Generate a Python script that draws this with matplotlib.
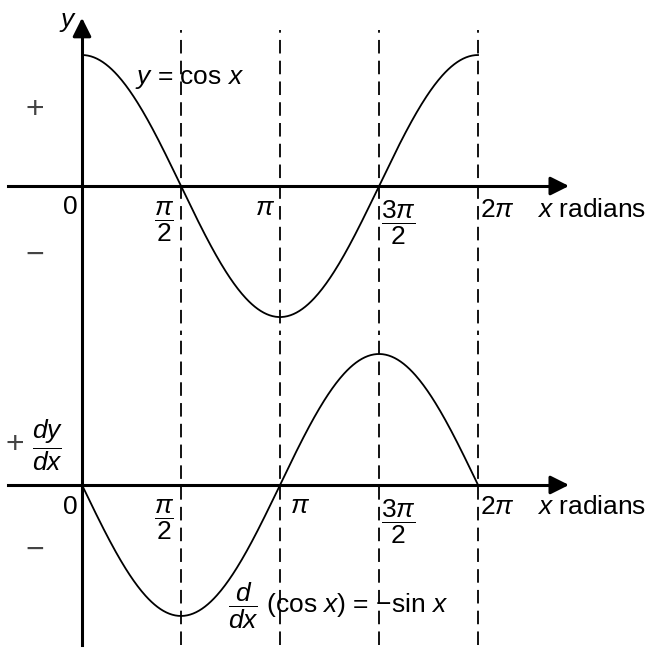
import numpy as np
import matplotlib.pyplot as plt

plt.rcParams['font.family'] = ['Liberation Sans', 'DejaVu Sans']
plt.rcParams['mathtext.fontset'] = 'custom'
plt.rcParams['mathtext.rm'] = 'Liberation Sans'
plt.rcParams['mathtext.it'] = 'Liberation Sans:italic'
plt.rcParams['mathtext.cal'] = 'Liberation Sans'

# guide lines and their labels (radians)
guide_x = [np.pi / 2, np.pi, 3 * np.pi / 2, 2 * np.pi]
top_labels = [r'$\dfrac{\pi}{2}$', r'$\pi$', r'$\dfrac{3\pi}{2}$', r'$2\pi$']
bot_labels = [r'$\dfrac{\pi}{2}$', r'$\pi$', r'$\dfrac{3\pi}{2}$', r'$2\pi$']
# label offsets relative to each guide line (x, y in data units)
top_lab_dx = [-0.27, -0.24, 0.30, 0.31]
top_lab_y = [-0.27, -0.17, -0.28, -0.18]
bot_lab_dx = [-0.27, 0.31, 0.30, 0.31]
bot_lab_y = [-0.27, -0.16, -0.28, -0.17]

x = np.linspace(0, 2 * np.pi, 400)
y_top = np.cos(x)
y_bot = -np.sin(x)

XMIN, XMAX = -1.301, 9.170
FS = 19
SIGN = '#444444'

fig = plt.figure(figsize=(6.6, 6.55), dpi=100)
ax1 = fig.add_axes([0, 320 / 655, 1, 335 / 655])
ax2 = fig.add_axes([0, 0, 1, 320 / 655])
ax1.set_ylim(-1.137, 1.42)
ax2.set_ylim(-1.298, 1.145)

for ax in (ax1, ax2):
    ax.set_xlim(XMIN, XMAX)
    ax.axis('off')

# dashed guide lines
for gx in guide_x:
    ax1.plot([gx, gx], [-2, 1.19], ls=(0, (7.5, 4)), color='k', lw=1.3)
    ax2.plot([gx, gx], [-1.22, 2], ls=(0, (7.5, 4)), color='k', lw=1.3)

# axes lines with arrow heads
ax1.plot([0, 0], [-2, 1.2], color='k', lw=2.2)
ax2.plot([0, 0], [-1.22, 2], color='k', lw=2.2)
ax1.annotate('', xy=(0, 1.305), xytext=(0, 1.15),
             arrowprops=dict(arrowstyle='-|>', color='k', lw=2.2, mutation_scale=28))
for ax in (ax1, ax2):
    ax.plot([-1.17, 7.5], [0, 0], color='k', lw=2.2)
    ax.annotate('', xy=(7.77, 0), xytext=(7.4, 0),
                arrowprops=dict(arrowstyle='-|>', color='k', lw=2.2, mutation_scale=28))

# curves
ax1.plot(x, y_top, color='k', lw=1.3)
ax2.plot(x, y_bot, color='k', lw=1.3)

# top panel text
ax1.text(-0.22, 1.25, r'$y$', fontsize=FS, ha='center', va='center')
ax1.text(0.84, 0.82, r'$y$ = cos $x$', fontsize=FS, ha='left', va='center')
ax1.text(-0.745, 0.58, '+', fontsize=FS + 4, ha='center', va='center', color=SIGN)
ax1.text(-0.745, -0.53, '−', fontsize=FS + 4, ha='center', va='center', color=SIGN)
ax1.text(-0.19, -0.16, '0', fontsize=FS, ha='center', va='center')
for gx, lab, dx, ly in zip(guide_x, top_labels, top_lab_dx, top_lab_y):
    ax1.text(gx + dx, ly, lab, fontsize=FS, ha='center', va='center')
ax1.text(7.22, -0.18, r'$x$ radians', fontsize=FS, ha='left', va='center')

# bottom panel text
ax2.text(-1.07, 0.305, '+', fontsize=FS + 4, ha='center', va='center', color=SIGN)
ax2.text(-0.54, 0.305, r'$\dfrac{dy}{dx}$', fontsize=FS, ha='center', va='center')
ax2.text(-0.745, -0.50, '−', fontsize=FS + 4, ha='center', va='center', color=SIGN)
ax2.text(-0.19, -0.17, '0', fontsize=FS, ha='center', va='center')
for gx, lab, dx, ly in zip(guide_x, bot_labels, bot_lab_dx, bot_lab_y):
    ax2.text(gx + dx, ly, lab, fontsize=FS, ha='center', va='center')
ax2.text(7.22, -0.17, r'$x$ radians', fontsize=FS, ha='left', va='center')
ax2.text(2.32, -0.92, r'$\dfrac{d}{dx}$ (cos $x$) = −sin $x$', fontsize=FS,
         ha='left', va='center')

fig.savefig('out.png', dpi=100, facecolor='white')
